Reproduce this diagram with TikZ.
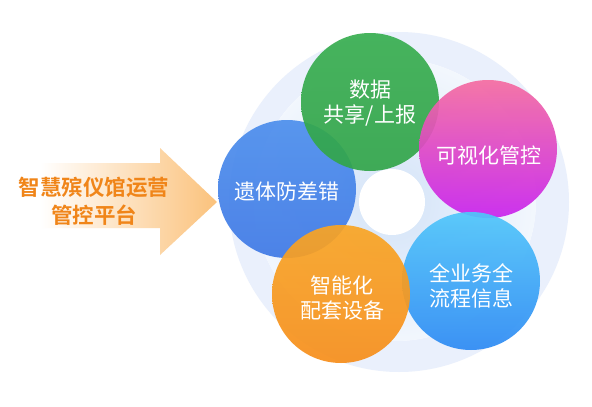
\documentclass[tikz,border=0pt]{standalone}
\usepackage{fontspec}
\newfontfamily\cjk{Noto Sans CJK SC}
\newfontfamily\cjkb{Noto Sans CJK SC Bold}
\definecolor{ringblue}{HTML}{EAF0FC}
\definecolor{centerblue}{HTML}{D3E3F8}
\definecolor{arroworange}{HTML}{FBC27C}
\definecolor{titleorange}{HTML}{F08519}
\definecolor{cgreen}{HTML}{38AE50}
\definecolor{cgreenb}{HTML}{32A54A}
\definecolor{cpinkt}{HTML}{F56CA0}
\definecolor{cpinkb}{HTML}{C922EE}
\definecolor{cbluet}{HTML}{4C8EEC}
\definecolor{cblueb}{HTML}{3F79E6}
\definecolor{coranget}{HTML}{F9A524}
\definecolor{corangeb}{HTML}{F78E1B}
\definecolor{clbluet}{HTML}{50C6FA}
\definecolor{clblueb}{HTML}{2D8AF4}
\tikzset{
  bubble/.style={circle, minimum size=138pt, inner sep=0pt, draw=none, fill opacity=0.92},
  bubbletext/.style={text=white, font=\cjk\fontsize{21}{25}\selectfont, align=center, inner sep=0pt},
  titletext/.style={text=titleorange, font=\cjkb\fontsize{21.5}{28}\selectfont, align=center, inner sep=0pt}
}
\begin{document}
\begin{tikzpicture}[x=1pt,y=-1pt]
\useasboundingbox (0,0) rectangle (592,407);
\fill[white] (0,0) rectangle (592,407);
% background ring
\fill[ringblue] (399,202) circle (170);
\fill[white] (395,200) circle (141);
\begin{scope}
  \clip (395,200) circle (141);
  \shade[inner color=centerblue, outer color=white] (392,202) circle (200);
\end{scope}
\fill[white] (392,202) circle (33);
% arrow
\shade[left color=white, right color=arroworange, draw=none]
  (40,163) -- (160,163) -- (160,148) -- (217,202) -- (160,255) -- (160,228) -- (40,228) -- cycle;
\node[titletext] (title) at (94,201) {智慧殡仪馆运营\\管控平台};
% bubbles
\node[bubble, top color=cbluet, bottom color=cblueb] (blue) at (287,189) {};
\node[bubble, top color=cgreen, bottom color=cgreenb] (green) at (370,102) {};
\node[bubble, top color=cpinkt, bottom color=cpinkb] (pink) at (488,149) {};
\node[bubble, top color=clbluet, bottom color=clblueb] (lblue) at (471,281) {};
\node[bubble, top color=coranget, bottom color=corangeb] (orange) at (341,294) {};
% texts
\node[bubbletext] (tgreen) at (370,103) {数据\\共享/上报};
\node[bubbletext] (tpink) at (489,155) {可视化管控};
\node[bubbletext] (tblue) at (287,192) {遗体防差错};
\node[bubbletext] (torange) at (342,298) {智能化\\配套设备};
\node[bubbletext] (tlblue) at (471,286) {全业务全\\流程信息};
\end{tikzpicture}
\end{document}
